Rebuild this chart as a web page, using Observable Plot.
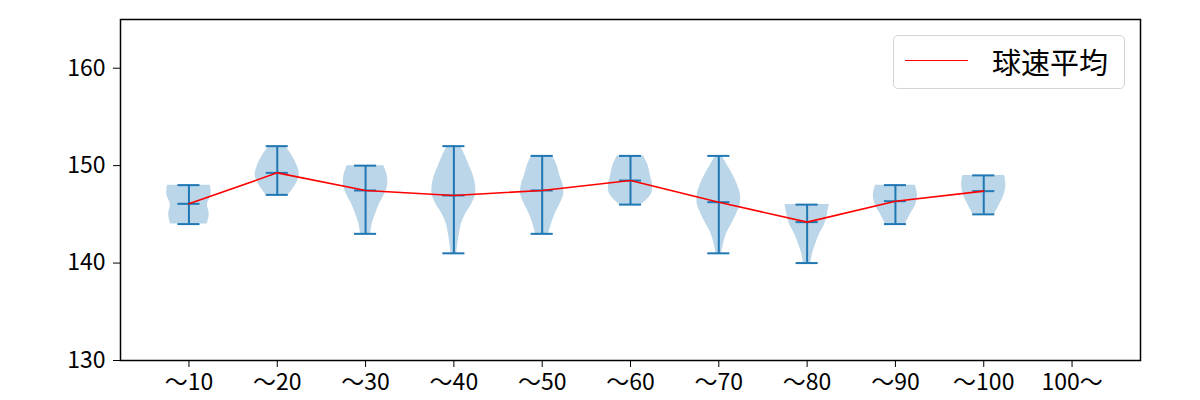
<!DOCTYPE html>
<html><head><meta charset="utf-8">
<script src="https://cdn.jsdelivr.net/npm/d3@7"></script>
<script src="https://cdn.jsdelivr.net/npm/@observablehq/plot@0.6"></script>
<style>
body{margin:0;background:#fff;}
#wrap{position:relative;width:1200px;height:400px;font-family:"Noto Sans CJK JP",sans-serif;}
#legend{position:absolute;left:893px;top:35px;width:232px;height:54px;border:1px solid #d4d4d4;border-radius:5px;background:rgba(255,255,255,0.8);box-sizing:border-box;}
#legend .ln{position:absolute;left:11px;top:24px;width:63px;height:0;border-top:1.6px solid red;}
#legend .tx{position:absolute;left:98px;top:6px;font-size:29px;line-height:38px;color:#000;}
</style></head><body><div id="wrap"><div id="legend"><div class="ln"></div><div class="tx">球速平均</div></div></div>
<script>
const categories = ["〜10","〜20","〜30","〜40","〜50","〜60","〜70","〜80","〜90","〜100","100〜"];
const yTicks = [130,140,150,160];
const mins  = [144,147,143,141,143,146,141,140,144,145];
const maxs  = [148,152,150,152,151,151,151,146,148,149];
const means = [146.08,149.26,147.45,146.94,147.45,148.47,146.25,144.2,146.35,147.38];
// relative violin widths at each integer speed from min to max
const profiles = [
  [0.83,0.92,0.84,1.0,0.97],
  [0.5,0.82,1.0,0.9,0.68,0.38],
  [0.23,0.3,0.45,0.62,0.85,1.0,0.98,0.83],
  [0.13,0.18,0.25,0.34,0.53,0.8,0.98,0.98,0.88,0.7,0.52,0.3],
  [0.3,0.42,0.58,0.8,0.97,0.95,0.8,0.68,0.48],
  [0.5,0.93,1.0,0.9,0.8,0.6],
  [0.13,0.22,0.35,0.58,0.8,0.97,0.98,0.85,0.65,0.4,0.15],
  [0.17,0.25,0.4,0.57,0.8,0.92,1.0],
  [0.45,0.68,0.92,1.0,0.9],
  [0.49,0.72,0.92,1.0,0.95]
];

const positions = categories.map((c,i)=>i+1);
const halfW = 0.25, capHalf = 0.125;
const stats = mins.map((m,i)=>({pos:i+1, min:m, max:maxs[i], mean:means[i]}));
const violinRows = [];
profiles.forEach((p,i)=>p.forEach((w,k)=>violinRows.push({cat:i, v:mins[i]+k, x1:i+1-w*halfW, x2:i+1+w*halfW})));
const capRows = [];
stats.forEach(s=>{for (const v of [s.min,s.max,s.mean]) capRows.push({v, a:s.pos-capHalf, b:s.pos+capHalf});});

const chart = Plot.plot({
  width:1200, height:400,
  marginLeft:120, marginRight:60, marginTop:19, marginBottom:40,
  style:{fontFamily:'"Noto Sans CJK JP", sans-serif', fontSize:"23px", color:"#000", background:"#fff"},
  x:{domain:[0.225,11.775]},
  y:{domain:[130,165]},
  marks:[
    Plot.areaX(violinRows,{y:"v", x1:"x1", x2:"x2", z:"cat", fill:"#1f77b4", fillOpacity:0.3, curve:"catmull-rom"}),
    Plot.ruleX(stats,{x:"pos", y1:"min", y2:"max", stroke:"#1f77b4", strokeWidth:2}),
    Plot.ruleY(capRows,{y:"v", x1:"a", x2:"b", stroke:"#1f77b4", strokeWidth:2}),
    Plot.line(stats,{x:"pos", y:"mean", stroke:"red", strokeWidth:1.6}),
    Plot.frame({stroke:"#000", strokeWidth:1.5}),
    Plot.axisX({ticks:positions, tickFormat:d=>categories[d-1], tickSize:7, tickPadding:6, label:null}),
    Plot.axisY({ticks:yTicks, tickSize:7, tickPadding:8, label:null})
  ]
});
document.getElementById("wrap").prepend(chart);
</script></body></html>
